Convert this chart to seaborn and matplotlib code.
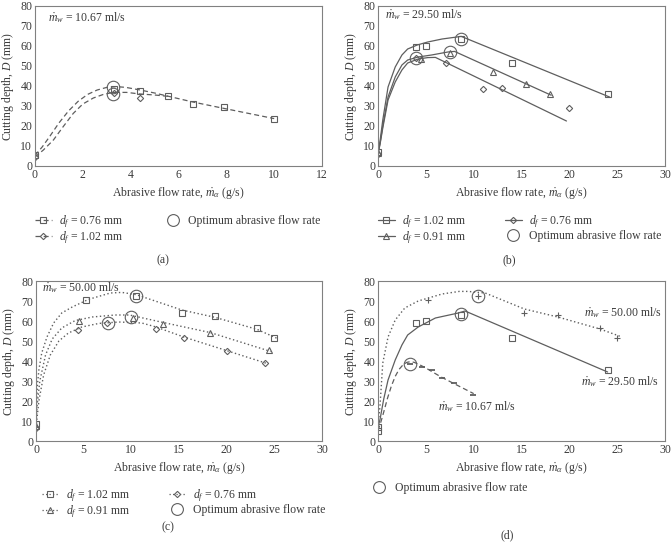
import numpy as np
import pandas as pd
import matplotlib
matplotlib.use('Agg')
import matplotlib.pyplot as plt
import seaborn as sns
from matplotlib.lines import Line2D

sns.set_style('white')
plt.rcParams['font.family'] = ['Liberation Serif', 'DejaVu Serif']
plt.rcParams['mathtext.fontset'] = 'custom'
plt.rcParams['mathtext.rm'] = 'Liberation Serif'
plt.rcParams['mathtext.it'] = 'Liberation Serif:italic'
plt.rcParams['mathtext.bf'] = 'Liberation Serif:bold'

LINE = '#5e5e5e'
TEXT = '#3a3a3a'
FRAME = '#808080'
FS = 8.5

# ---- (a) mw = 10.67 ml/s ----
a_sq_x = [0, 3.3, 4.4, 5.55, 6.6, 7.9, 10.0]
a_sq_y = [5.5, 38.7, 37.6, 35.0, 31.0, 29.3, 23.4]
a_di_x = [0, 3.3, 4.4]
a_di_y = [4.5, 36.5, 34.0]
a_sq_fit_x = [0, 0.3, 0.6, 1.0, 1.4, 1.8, 2.2, 2.6, 3.0, 3.4, 3.8, 4.4, 5.0, 5.6, 6.6, 7.9, 10.0]
a_sq_fit_y = [5.3, 9.5, 14.5, 21.5, 27.5, 32.3, 35.8, 38.0, 39.3, 39.7, 39.3, 38.0, 36.5, 34.8, 32.0, 28.8, 23.7]
a_di_fit_x = [0, 0.35, 0.77, 1.18, 1.6, 2.0, 2.44, 2.86, 3.27, 3.83, 4.4, 5.0, 5.6]
a_di_fit_y = [4.5, 8.0, 13.0, 19.7, 26.3, 31.0, 34.0, 35.8, 36.8, 36.8, 36.0, 35.5, 34.8]
a_opt_x = [3.25, 3.25]
a_opt_y = [39.6, 36.0]

# ---- (b) mw = 29.50 ml/s ----
b_sq_x = [0, 4.0, 5.0, 8.65, 14.0, 24.0]
b_sq_y = [7.0, 59.5, 60.0, 63.3, 51.5, 35.8]
b_tr_x = [0, 4.5, 7.55, 12.0, 15.5, 18.0]
b_tr_y = [6.5, 53.3, 56.7, 46.8, 41.2, 35.9]
b_di_x = [0, 4.0, 7.15, 11.0, 13.0, 20.0]
b_di_y = [6.0, 54.0, 51.5, 38.7, 38.8, 28.8]
b_sq_fit_x = [0, 0.2, 0.5, 1.05, 1.8, 2.5, 3.1, 4.1, 5.2, 6.7, 8.7, 24.2]
b_sq_fit_y = [7.0, 12.0, 23.0, 39.5, 49.5, 55.5, 58.5, 60.5, 62.0, 63.5, 64.8, 34.5]
b_tr_fit_x = [0, 0.2, 0.5, 1.05, 1.8, 2.5, 3.1, 4.2, 5.6, 7.3, 8.0, 18.1]
b_tr_fit_y = [6.5, 11.0, 20.0, 34.5, 44.5, 50.5, 53.0, 54.5, 55.5, 57.0, 57.3, 35.4]
b_di_fit_x = [0, 0.2, 0.5, 1.05, 1.8, 2.5, 3.1, 4.2, 5.2, 6.0, 19.7]
b_di_fit_y = [6.0, 10.5, 19.0, 33.0, 42.0, 48.0, 51.5, 53.5, 54.2, 54.3, 22.5]
b_opt_x = [8.65, 7.55, 4.0]
b_opt_y = [63.5, 56.8, 54.0]

# ---- (c) mw = 50.00 ml/s ----
c_sq_x = [0, 5.2, 10.5, 15.3, 18.8, 23.2, 25.0]
c_sq_y = [8.5, 70.5, 72.4, 64.0, 62.7, 56.5, 51.7]
c_tr_x = [0, 4.5, 10.2, 13.3, 18.3, 24.4]
c_tr_y = [7.6, 60.0, 61.3, 58.4, 54.0, 45.3]
c_di_x = [0, 4.4, 7.4, 12.6, 15.5, 20.0, 24.0]
c_di_y = [6.7, 55.4, 59.2, 56.1, 51.4, 44.9, 39.1]
c_sq_fit_x = [0, 0.05, 0.15, 0.3, 0.6, 1.15, 1.85, 2.7, 3.8, 5.5, 7.8, 9.0, 10.5, 15.3, 18.8, 23.2, 25.3]
c_sq_fit_y = [8.0, 18.0, 28.0, 35.5, 44.0, 52.0, 59.0, 64.0, 67.0, 70.8, 74.0, 74.3, 73.2, 65.5, 61.8, 55.8, 51.3]
c_tr_fit_x = [0, 0.1, 0.4, 1.0, 1.7, 2.7, 4.1, 5.9, 8.3, 9.8, 13.3, 18.3, 24.6]
c_tr_fit_y = [7.6, 17.0, 30.0, 43.0, 51.0, 56.5, 60.2, 62.0, 63.0, 63.0, 59.3, 54.2, 44.8]
c_di_fit_x = [0, 0.3, 0.8, 1.5, 2.4, 3.4, 4.8, 6.6, 8.7, 11.1, 12.6, 15.5, 20.0, 24.2]
c_di_fit_y = [6.7, 20.0, 33.0, 43.0, 50.0, 54.0, 57.0, 58.8, 59.5, 59.0, 57.0, 52.0, 45.2, 38.8]
c_opt_x = [10.45, 10.0, 7.5]
c_opt_y = [72.5, 62.0, 59.0]

# ---- (d) comparison, df = 1.02 mm ----
d_50_x = [5.2, 10.5, 15.3, 18.8, 23.2, 25.0]
d_50_y = [70.5, 72.4, 64.0, 62.8, 56.6, 51.7]
d_29_x = [0, 0, 4.0, 5.0, 8.65, 14.0, 24.0]
d_29_y = [7.2, 5.0, 59.2, 59.9, 63.2, 51.5, 35.6]
d_10_x = [3.35, 4.6, 5.6, 6.65, 7.95, 9.9]
d_10_y = [38.5, 36.8, 35.3, 31.3, 29.2, 23.2]
d_50_fit_x = [0, 0.2, 0.5, 1.05, 1.8, 2.8, 4.2, 6.7, 8.5, 9.4, 11.2, 15.3, 18.8, 23.2, 25.5]
d_50_fit_y = [8.0, 17.0, 39.0, 52.0, 60.5, 66.5, 70.0, 73.5, 74.8, 74.8, 74.0, 66.0, 62.0, 56.0, 52.0]
d_29_fit_x = [0, 0.2, 0.6, 1.05, 1.8, 2.5, 3.1, 4.2, 6.0, 8.4, 9.1, 24.0]
d_29_fit_y = [7.0, 10.5, 21.0, 30.5, 40.5, 48.0, 53.0, 57.0, 61.5, 64.0, 65.0, 34.5]
d_opt_x = [10.45, 8.7, 3.35]
d_opt_y = [72.5, 63.3, 38.5]

W, H = 672, 548
fig = plt.figure(figsize=(W / 100, H / 100), dpi=100)


def make_ax(l, t, r, b):
    return fig.add_axes([l / W, 1 - b / H, (r - l) / W, (b - t) / H])


def style(ax, xmax, xstep):
    ax.set_xlim(0, xmax)
    ax.set_ylim(0, 80)
    ax.set_xticks(np.arange(0, xmax + 0.1, xstep))
    ax.set_yticks(np.arange(0, 81, 10))
    for s in ax.spines.values():
        s.set_color(FRAME)
        s.set_linewidth(0.8)
        s.set_visible(True)
    ax.tick_params(direction='in', length=2.5, width=0.6, color=FRAME,
                   labelsize=FS, labelcolor=TEXT, pad=2)
    ax.set_xlabel(r'Abrasive flow rate, $\dot{m}_\alpha$ (g/s)', fontsize=FS, color=TEXT, labelpad=3)
    ax.set_ylabel(r'Cutting depth, $D$ (mm)', fontsize=FS, color=TEXT, labelpad=3)


def curve(ax, x, y, ls, lw=0.9):
    df = pd.DataFrame({'x': x, 'y': y})
    sns.lineplot(data=df, x='x', y='y', ax=ax, sort=False, estimator=None,
                 color=LINE, linestyle=ls, linewidth=lw)


def points(ax, x, y, marker, ms=4.5, mew=0.8):
    df = pd.DataFrame({'x': x, 'y': y})
    sns.lineplot(data=df, x='x', y='y', ax=ax, sort=False, estimator=None,
                 color=LINE, linestyle='', marker=marker, markersize=ms,
                 markerfacecolor='none', markeredgecolor=LINE, markeredgewidth=mew)


def optimum(ax, x, y):
    points(ax, x, y, 'o', ms=9, mew=0.8)


def handle(ls, marker, ms=4):
    return Line2D([], [], color=LINE, linestyle=ls, linewidth=0.9, marker=marker,
                  markersize=ms, markerfacecolor='none', markeredgecolor=LINE,
                  markeredgewidth=0.8)


opt_handle = Line2D([], [], linestyle='', marker='o', markersize=8.5,
                    markerfacecolor='none', markeredgecolor=LINE, markeredgewidth=0.8)

DASH = (0, (4, 2.5))
DOT = (0, (1, 1.8))
LEG = dict(loc='upper left', bbox_transform=fig.transFigure, frameon=False,
           borderpad=0, borderaxespad=0, handlelength=1.4, handletextpad=0.6,
           labelspacing=0.0, fontsize=FS, labelcolor=TEXT)

# (a)
ax = make_ax(35, 6, 322, 166)
curve(ax, a_sq_fit_x, a_sq_fit_y, DASH)
curve(ax, a_di_fit_x, a_di_fit_y, DASH)
points(ax, a_sq_x, a_sq_y, 's')
points(ax, a_di_x, a_di_y, 'D', ms=3.2)
optimum(ax, a_opt_x, a_opt_y)
style(ax, 12, 2)
ax.text(0.045, 0.93, r'$\dot{m}_w$ = 10.67 ml/s', transform=ax.transAxes,
        fontsize=FS, color=TEXT, va='center')
ax.legend([handle(DASH, 's'), handle(DASH, 'D', 3.2), opt_handle],
          [r'$d_f$ = 0.76 mm', r'$d_f$ = 1.02 mm', 'Optimum abrasive flow rate'],
          bbox_to_anchor=(35 / W, 1 - 213 / H), ncol=2, columnspacing=3.5, **LEG)
fig.text(163 / W, 1 - 260 / H, '(a)', ha='center', va='center', fontsize=FS, color=TEXT)

# (b)
ax = make_ax(378, 6, 665, 166)
curve(ax, b_sq_fit_x, b_sq_fit_y, '-')
curve(ax, b_tr_fit_x, b_tr_fit_y, '-')
curve(ax, b_di_fit_x, b_di_fit_y, '-')
points(ax, b_sq_x, b_sq_y, 's')
points(ax, b_tr_x, b_tr_y, '^', ms=4.5)
points(ax, b_di_x, b_di_y, 'D', ms=3.2)
optimum(ax, b_opt_x, b_opt_y)
style(ax, 30, 5)
ax.text(0.024, 0.944, r'$\dot{m}_w$ = 29.50 ml/s', transform=ax.transAxes,
        fontsize=FS, color=TEXT, va='center')
ax.legend([handle('-', 's'), handle('-', '^'), handle('-', 'D', 3.2), opt_handle],
          [r'$d_f$ = 1.02 mm', r'$d_f$ = 0.91 mm', r'$d_f$ = 0.76 mm', 'Optimum abrasive flow rate'],
          bbox_to_anchor=(378 / W, 1 - 213 / H), ncol=2, columnspacing=3.3, **LEG)
fig.text(509 / W, 1 - 260 / H, '(b)', ha='center', va='center', fontsize=FS, color=TEXT)

# (c)
ax = make_ax(36, 281, 322, 441)
curve(ax, c_sq_fit_x, c_sq_fit_y, DOT, lw=1.0)
curve(ax, c_tr_fit_x, c_tr_fit_y, DOT, lw=1.0)
curve(ax, c_di_fit_x, c_di_fit_y, DOT, lw=1.0)
points(ax, c_sq_x, c_sq_y, 's')
points(ax, c_tr_x, c_tr_y, '^', ms=4.5)
points(ax, c_di_x, c_di_y, 'D', ms=3.2)
optimum(ax, c_opt_x, c_opt_y)
style(ax, 30, 5)
ax.text(0.021, 0.956, r'$\dot{m}_w$ = 50.00 ml/s', transform=ax.transAxes,
        fontsize=FS, color=TEXT, va='center')
ax.legend([handle(DOT, 's'), handle(DOT, '^'), handle(DOT, 'D', 3.2), opt_handle],
          [r'$d_f$ = 1.02 mm', r'$d_f$ = 0.91 mm', r'$d_f$ = 0.76 mm', 'Optimum abrasive flow rate'],
          bbox_to_anchor=(42 / W, 1 - 487 / H), ncol=2, columnspacing=3.3, **LEG)
fig.text(168 / W, 1 - 527 / H, '(c)', ha='center', va='center', fontsize=FS, color=TEXT)

# (d)
ax = make_ax(378, 281, 665, 441)
curve(ax, d_50_fit_x, d_50_fit_y, DOT, lw=1.0)
curve(ax, d_29_fit_x, d_29_fit_y, '-')
curve(ax, a_sq_fit_x, a_sq_fit_y, DASH)
points(ax, d_50_x, d_50_y, '+', ms=5)
points(ax, d_29_x, d_29_y, 's')
points(ax, d_10_x, d_10_y, '_', ms=5, mew=1.3)
optimum(ax, d_opt_x, d_opt_y)
style(ax, 30, 5)
ax.text(0.718, 0.80, r'$\dot{m}_w$ = 50.00 ml/s', transform=ax.transAxes,
        fontsize=FS, color=TEXT, va='center')
ax.text(0.707, 0.369, r'$\dot{m}_w$ = 29.50 ml/s', transform=ax.transAxes,
        fontsize=FS, color=TEXT, va='center')
ax.text(0.209, 0.2125, r'$\dot{m}_w$ = 10.67 ml/s', transform=ax.transAxes,
        fontsize=FS, color=TEXT, va='center')
ax.legend([opt_handle], ['Optimum abrasive flow rate'],
          bbox_to_anchor=(371 / W, 1 - 482 / H), **LEG)
fig.text(507 / W, 1 - 535 / H, '(d)', ha='center', va='center', fontsize=FS, color=TEXT)

fig.savefig('out.png', dpi=100)
